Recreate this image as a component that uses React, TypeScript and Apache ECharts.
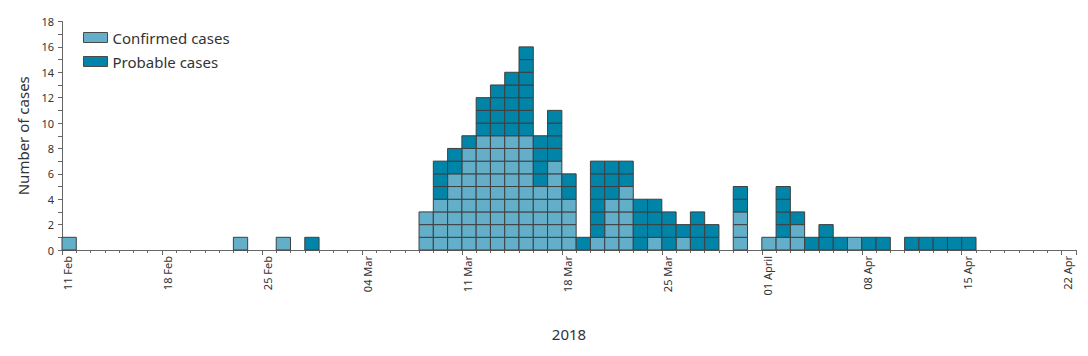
import React, { useEffect, useRef } from "react";
import * as echarts from "echarts";

// Day index 0 = 11 Feb 2018, one entry per day up to 22 Apr (index 70)
const tickLabels = [
  "11 Feb", "18 Feb", "25 Feb", "04 Mar", "11 Mar", "18 Mar",
  "25 Mar", "01 April", "08 Apr", "15 Apr", "22 Apr",
];

const confirmed = [
  1, 0, 0, 0, 0, 0, 0,
  0, 0, 0, 0, 0, 1, 0,
  0, 1, 0, 0, 0, 0, 0,
  0, 0, 0, 0, 3, 4, 6,
  8, 9, 9, 9, 9, 5, 7,
  4, 0, 1, 4, 5, 0, 1,
  0, 1, 0, 0, 0, 3, 0,
  1, 1, 2, 0, 0, 0, 1,
  0, 0, 0, 0, 0, 0, 0,
  0, 0, 0, 0, 0, 0, 0,
  0,
];

const probable = [
  0, 0, 0, 0, 0, 0, 0,
  0, 0, 0, 0, 0, 0, 0,
  0, 0, 0, 1, 0, 0, 0,
  0, 0, 0, 0, 0, 3, 2,
  1, 3, 4, 5, 7, 4, 4,
  2, 1, 6, 3, 2, 4, 3,
  3, 1, 3, 2, 0, 2, 0,
  0, 4, 1, 1, 2, 1, 0,
  1, 1, 0, 1, 1, 1, 1,
  1, 0, 0, 0, 0, 0, 0,
  0,
];

const seriesNames = ["Confirmed cases", "Probable cases"];
const COLOR_CONF = "#63AFCA";
const COLOR_PROB = "#0085A8";
const CELL_BORDER = "#3f3f3f";

function buildCells(kind: "c" | "p"): number[][] {
  const cells: number[][] = [];
  for (let d = 0; d < confirmed.length; d++) {
    const c = confirmed[d];
    const p = probable[d];
    if (kind === "c") {
      for (let k = 0; k < c; k++) cells.push([d, k]);
    } else {
      for (let k = 0; k < p; k++) cells.push([d, c + k]);
    }
  }
  return cells;
}

function makeRender(color: string) {
  return (params: any, api: any) => {
    const d = api.value(0);
    const k = api.value(1);
    const p0 = api.coord([d, k]);
    const p1 = api.coord([d + 1, k + 1]);
    return {
      type: "rect",
      shape: {
        x: p0[0],
        y: p1[1],
        width: p1[0] - p0[0],
        height: p0[1] - p1[1],
      },
      style: { fill: color, stroke: CELL_BORDER, lineWidth: 1 },
    };
  };
}

export default function App() {
  const ref = useRef<HTMLDivElement>(null);

  useEffect(() => {
    if (!ref.current) return;
    const chart = echarts.init(ref.current, undefined, { renderer: "svg" });
    const font = "'Noto Sans', 'Open Sans', sans-serif";
    chart.setOption({
      animation: false,
      backgroundColor: "#ffffff",
      textStyle: { fontFamily: font },
      grid: { left: 62, right: 12, top: 21.5, bottom: 106, containLabel: false },
      legend: {
        orient: "vertical",
        left: 83,
        top: 30,
        padding: 0,
        itemWidth: 24,
        itemHeight: 10,
        itemGap: 9,
        icon: "rect",
        data: seriesNames,
        itemStyle: { borderColor: "#4a4a4a", borderWidth: 1 },
        textStyle: { fontSize: 15, color: "#333333", fontFamily: font },
        selectedMode: false,
      },
      xAxis: {
        type: "value",
        min: 0,
        max: 71,
        interval: 7,
        name: "2018",
        nameLocation: "middle",
        nameGap: 76,
        nameTextStyle: { fontSize: 15, color: "#333333", fontFamily: font },
        axisLine: { show: true, lineStyle: { color: "#666666", width: 1 } },
        axisTick: { show: true, length: 5, lineStyle: { color: "#666666" } },
        minorTick: { show: true, splitNumber: 7, length: 3, lineStyle: { color: "#666666" } },
        splitLine: { show: false },
        minorSplitLine: { show: false },
        axisLabel: {
          rotate: 90,
          margin: 6,
          fontSize: 11,
          color: "#333333",
          fontFamily: font,
          verticalAlign: "top",
          formatter: (v: number) => {
            const i = Math.round(v / 7);
            return Math.abs(v - i * 7) < 1e-6 && tickLabels[i] ? tickLabels[i] : "";
          },
        },
      },
      yAxis: {
        type: "value",
        min: 0,
        max: 18,
        interval: 2,
        name: "Number of cases",
        nameLocation: "middle",
        nameGap: 28,
        nameTextStyle: { fontSize: 15, color: "#333333", fontFamily: font },
        axisLine: { show: true, lineStyle: { color: "#666666", width: 1 } },
        axisTick: { show: true, length: 4, lineStyle: { color: "#666666" } },
        minorTick: { show: true, splitNumber: 2, length: 4, lineStyle: { color: "#666666" } },
        splitLine: { show: false },
        axisLabel: { fontSize: 11, color: "#333333", margin: 8, fontFamily: font },
      },
      series: [
        {
          name: seriesNames[0],
          type: "custom",
          renderItem: makeRender(COLOR_CONF),
          itemStyle: { color: COLOR_CONF, borderColor: "#4a4a4a", borderWidth: 1 },
          encode: { x: 0, y: 1 },
          data: buildCells("c"),
          z: 3,
        },
        {
          name: seriesNames[1],
          type: "custom",
          renderItem: makeRender(COLOR_PROB),
          itemStyle: { color: COLOR_PROB, borderColor: "#4a4a4a", borderWidth: 1 },
          encode: { x: 0, y: 1 },
          data: buildCells("p"),
          z: 3,
        },
      ],
    });
    return () => chart.dispose();
  }, []);

  return (
    <div
      ref={ref}
      style={{ position: "absolute", left: 0, top: 0, width: 1088, height: 356 }}
    />
  );
}
